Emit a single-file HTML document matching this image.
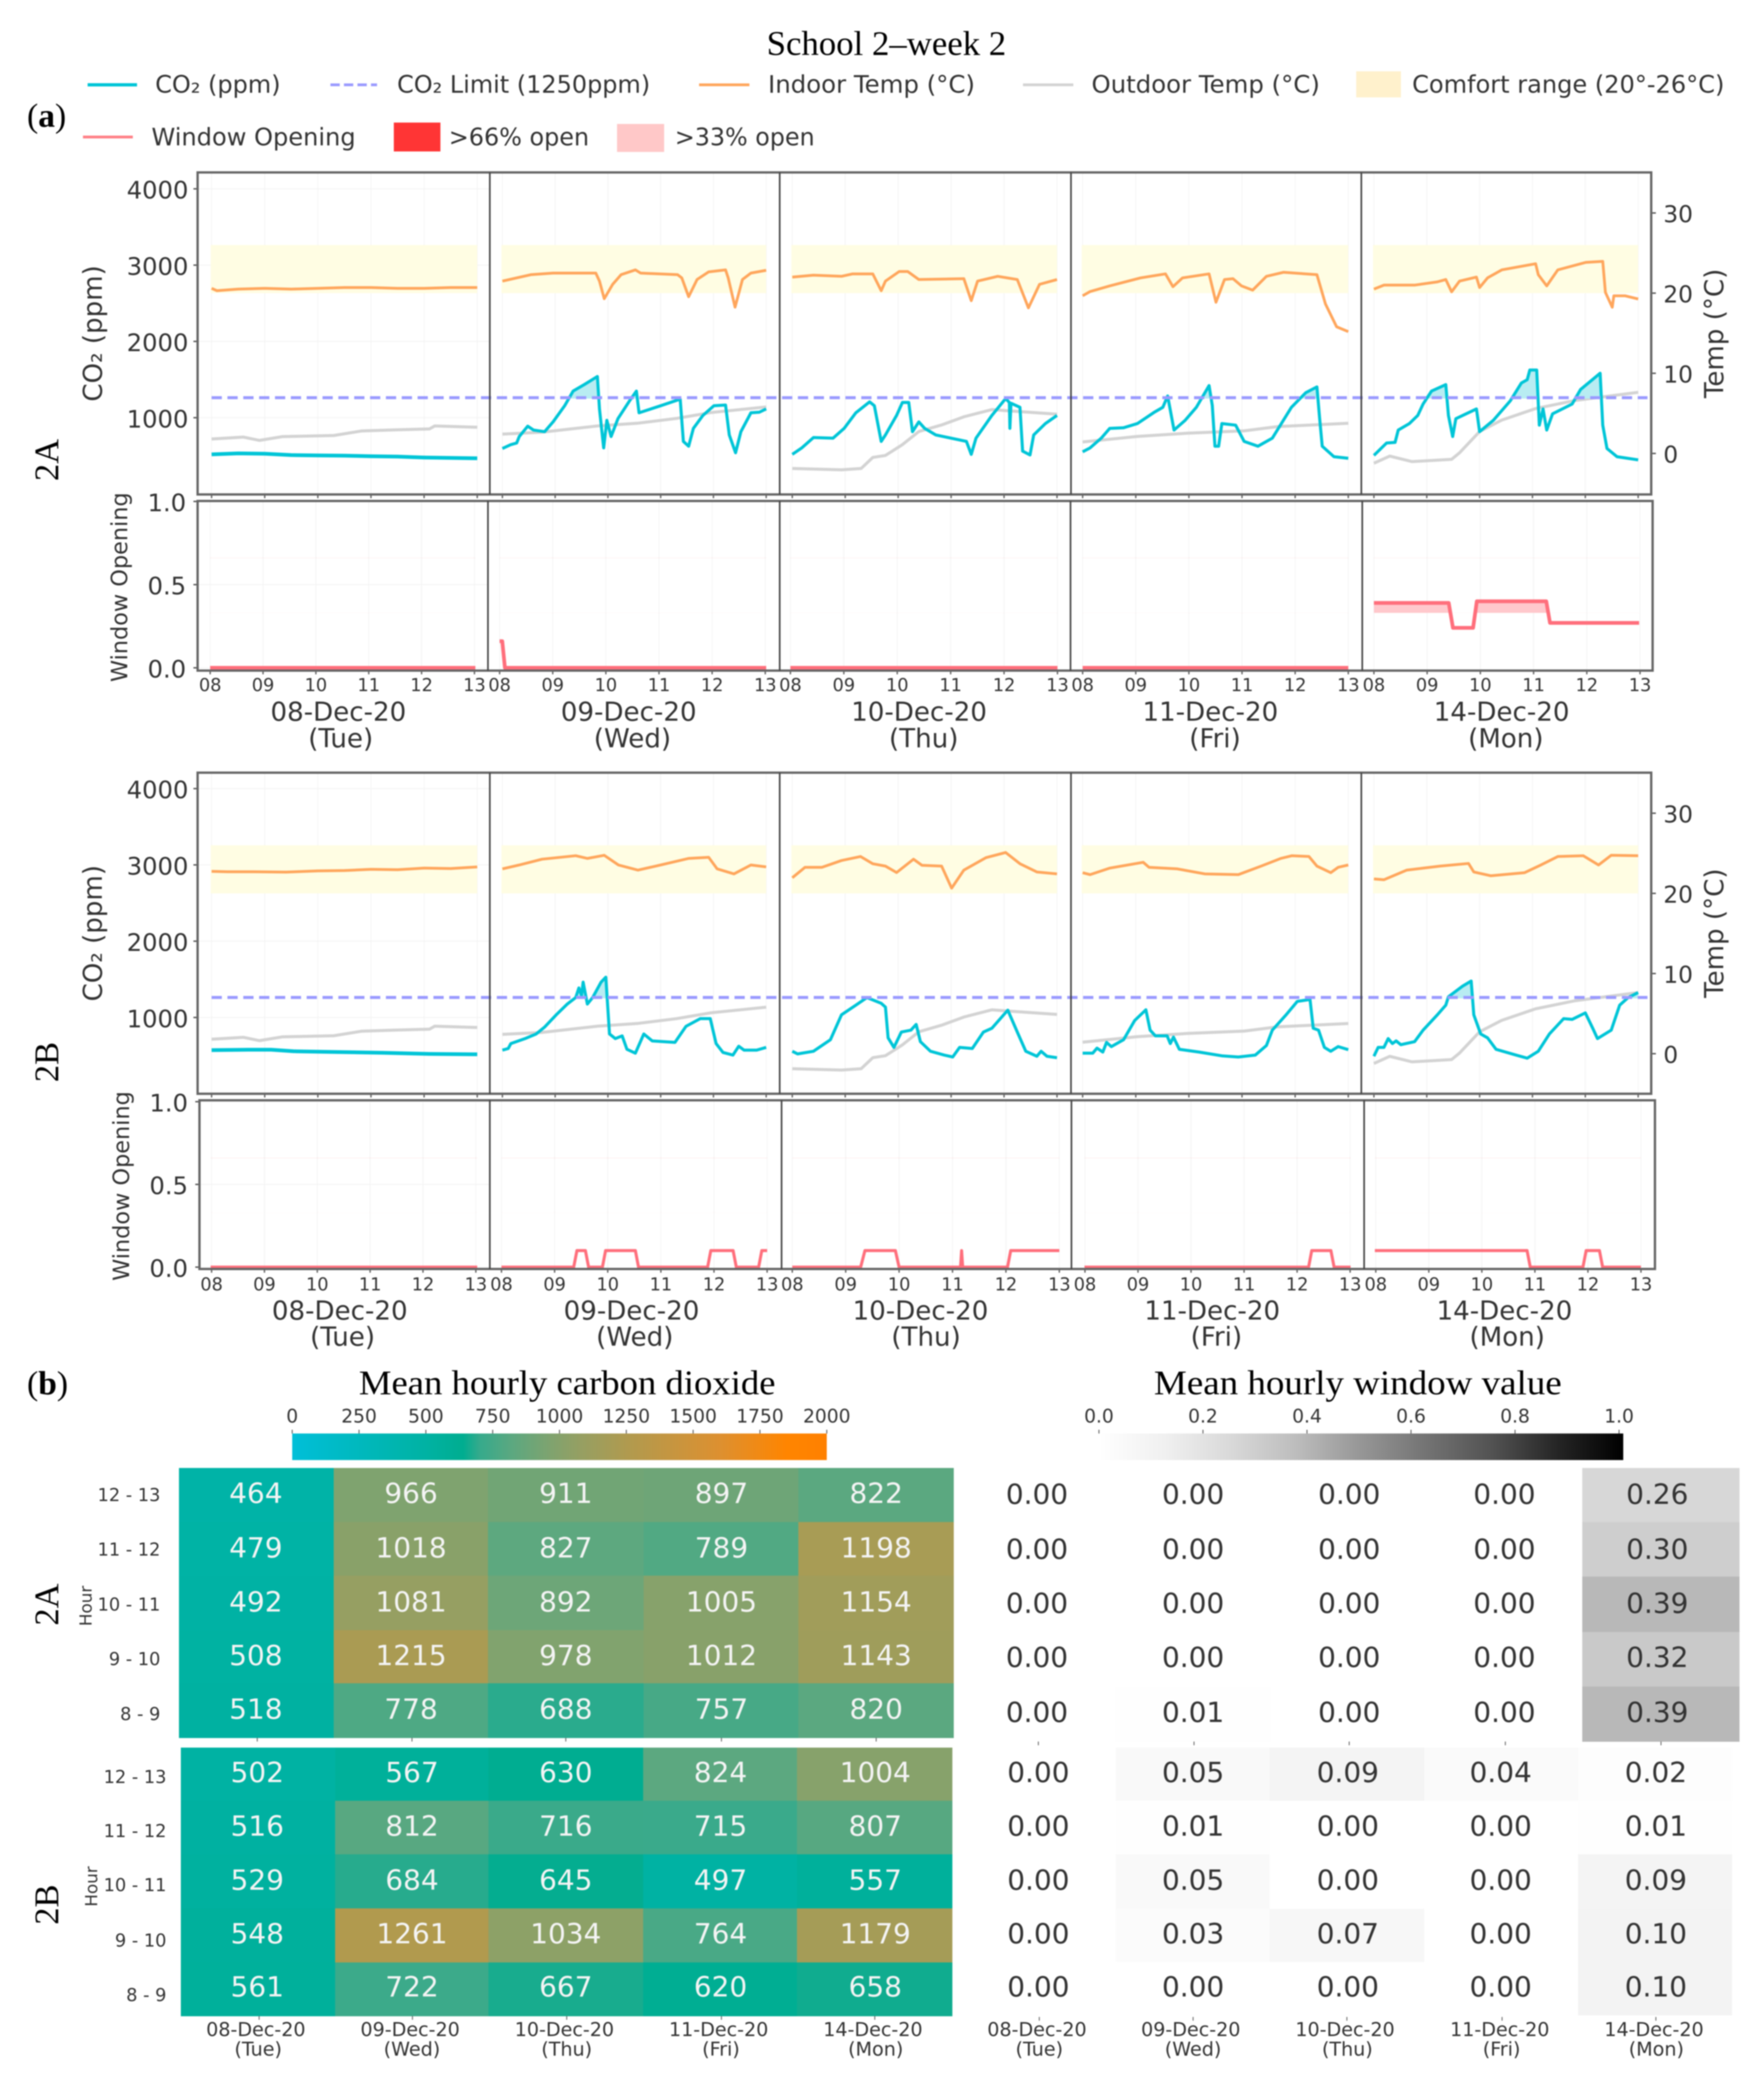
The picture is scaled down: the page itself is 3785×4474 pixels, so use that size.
<!DOCTYPE html>
<html lang="en">
<head>
<meta charset="utf-8">
<title>School 2 – week 2</title>
<style>
html,body{margin:0;padding:0;background:#fff;width:3785px;height:4474px;overflow:hidden}
svg{display:block;filter:blur(1.4px)}
text{font-family:"DejaVu Sans","Liberation Sans",sans-serif;fill:#333}
.serif{font-family:"Liberation Serif",serif;fill:#000}
</style>
</head>
<body>
<svg id="chart" xmlns="http://www.w3.org/2000/svg" width="3785" height="4474" viewBox="0 0 3785 4474">
  <rect x="0" y="0" width="3785" height="4474" fill="#fff"/>
  <text class="serif" x="1645" y="118" font-size="74" textLength="514" lengthAdjust="spacingAndGlyphs">School 2–week 2</text>
  <text class="serif" x="58" y="272" font-size="72">(<tspan font-weight="bold">a</tspan>)</text>
  <text class="serif" x="58" y="2992" font-size="72">(<tspan font-weight="bold">b</tspan>)</text>

  <g>
    <line x1="188" y1="182" x2="294" y2="182" stroke="#00c5d7" stroke-width="7"/>
    <text x="333" y="199" font-size="52" textLength="269" lengthAdjust="spacingAndGlyphs">CO₂ (ppm)</text>
    <line x1="709" y1="182" x2="809" y2="182" stroke="#9a9aff" stroke-width="6" stroke-dasharray="20 9"/>
    <text x="852" y="199" font-size="52" textLength="543" lengthAdjust="spacingAndGlyphs">CO₂ Limit (1250ppm)</text>
    <line x1="1500" y1="182" x2="1608" y2="182" stroke="#ffa65c" stroke-width="6"/>
    <text x="1648" y="199" font-size="52" textLength="444" lengthAdjust="spacingAndGlyphs">Indoor Temp (°C)</text>
    <line x1="2195" y1="182" x2="2303" y2="182" stroke="#d3d3d3" stroke-width="6"/>
    <text x="2342" y="199" font-size="52" textLength="490" lengthAdjust="spacingAndGlyphs">Outdoor Temp (°C)</text>
    <rect x="2910" y="153" width="96" height="56" fill="#fff1cc"/>
    <text x="3030" y="199" font-size="52" textLength="670" lengthAdjust="spacingAndGlyphs">Comfort range (20°-26°C)</text>
    <line x1="178" y1="294" x2="285" y2="294" stroke="#ff7f85" stroke-width="6"/>
    <text x="325" y="312" font-size="52" textLength="438" lengthAdjust="spacingAndGlyphs">Window Opening</text>
    <rect x="845" y="263" width="100" height="62" fill="#ff3535"/>
    <text x="963" y="312" font-size="52" textLength="301" lengthAdjust="spacingAndGlyphs">&gt;66% open</text>
    <rect x="1324" y="266" width="101" height="60" fill="#ffc8c8"/>
    <text x="1448" y="312" font-size="52" textLength="300" lengthAdjust="spacingAndGlyphs">&gt;33% open</text>
  </g>

  <text class="serif" transform="translate(125,987) rotate(-90)" text-anchor="middle" font-size="74">2A</text>
  <text class="serif" transform="translate(125,2279) rotate(-90)" text-anchor="middle" font-size="74">2B</text>
  <text class="serif" transform="translate(125,3443) rotate(-90)" text-anchor="middle" font-size="74">2A</text>
  <text class="serif" transform="translate(125,4087) rotate(-90)" text-anchor="middle" font-size="74">2B</text>

  <text class="serif" x="770" y="2992" font-size="74" textLength="894" lengthAdjust="spacingAndGlyphs">Mean hourly carbon dioxide</text>
  <text class="serif" x="2476" y="2992" font-size="74" textLength="875" lengthAdjust="spacingAndGlyphs">Mean hourly window value</text>
</svg>

<script>
/* ---------- tick labels & categories ---------- */
const dayDates = ['08-Dec-20','09-Dec-20','10-Dec-20','11-Dec-20','14-Dec-20'];
const dayNames = ['(Tue)','(Wed)','(Thu)','(Fri)','(Mon)'];
const hourTicks = [8,9,10,11,12,13];
const hourTickLabels = ['08','09','10','11','12','13'];
const co2Ticks = [1000,2000,3000,4000];
const tempTicks = [0,10,20,30];
const windowTicks = [0,0.5,1];
const co2Limit = [1250];
const comfortRange = [20,26];
const windowThresholds = [0.33,0.66];
const heatRowLabels = ['12 - 13','11 - 12','10 - 11','9 - 10','8 - 9'];
const co2BarTicks = [0,250,500,750,1000,1250,1500,1750,2000];
const windowBarTicks = [0,0.2,0.4,0.6,0.8,1];

/* ---------- outdoor temperature (deg C), shared by both rooms: [hour, value] ---------- */
const outdoorTue = [[8,1.8],[8.6,2.04],[8.9,1.63],[9.33,2.1],[10.3,2.24],[10.82,2.8],[11.46,2.94],[12.1,3.06],[12.2,3.43],[13,3.27]];
const outdoorWed = [[8,2.41],[8.75,2.65],[9.8,3.43],[10.55,3.76],[11.3,4.37],[11.95,5.1],[13,5.8]];
const outdoorThu = [[8,-1.88],[8.93,-2.04],[9.3,-1.88],[9.52,-0.5],[9.76,-0.25],[10.08,1.1],[10.39,2.73],[10.82,3.55],[11.24,4.57],[11.77,5.47],[12.19,5.27],[13,4.9]];
const outdoorFri = [[8,1.43],[9.03,2.12],[9.98,2.53],[11.04,2.82],[11.67,3.35],[13,3.76]];
const outdoorMon = [[8,-1.22],[8.3,-0.33],[8.72,-1.02],[9.47,-0.73],[9.62,0.08],[10,2.73],[10.42,4.16],[11.06,5.6],[11.8,6.6],[13,7.63]];

/* ---------- room 2A CO2 (ppm): [hour, value] ---------- */
const co2A_Tue = [[8,519],[8.5,532],[9,528],[9.5,510],[10,505],[10.5,503],[11,495],[11.5,490],[12,478],[13,468]];
const co2A_Wed = [[8,596],[8.16,647],[8.27,668],[8.32,753],[8.48,889],[8.59,838],[8.8,817],[8.96,945],[9.18,1157],[9.34,1349],[9.55,1434],[9.8,1540],[9.84,1115],[9.92,604],[9.98,966],[10.06,753],[10.19,987],[10.41,1221],[10.54,1349],[10.59,1064],[11,1157],[11.37,1243],[11.43,689],[11.53,626],[11.62,860],[11.8,1030],[12.01,1157],[12.23,1166],[12.3,774],[12.42,540],[12.52,817],[12.71,1064],[12.87,1072],[13,1115]];
const co2A_Thu = [[8,519],[8.18,604],[8.4,740],[8.77,732],[8.98,860],[9.2,1064],[9.46,1208],[9.55,1157],[9.68,689],[9.76,774],[9.97,1030],[10.08,1200],[10.2,1200],[10.27,817],[10.39,945],[10.5,860],[10.71,774],[11.14,711],[11.29,689],[11.38,519],[11.47,732],[11.77,1030],[12.03,1251],[12.1,1200],[12.11,860],[12.13,1190],[12.3,1136],[12.35,562],[12.49,511],[12.56,774],[12.78,923],[13,1030]];
const co2A_Fri = [[8,553],[8.14,604],[8.35,732],[8.51,860],[8.77,868],[9.03,923],[9.35,1072],[9.51,1136],[9.6,1285],[9.72,838],[9.93,966],[10.14,1136],[10.38,1421],[10.44,1160],[10.49,626],[10.56,626],[10.62,923],[10.88,902],[11.04,689],[11.3,626],[11.57,732],[11.93,1136],[12.2,1328],[12.41,1404],[12.46,1000],[12.51,626],[12.73,489],[13,468]];
const co2A_Mon = [[8,506],[8.24,668],[8.4,676],[8.46,838],[8.67,923],[8.83,1030],[8.93,1179],[9.09,1349],[9.36,1434],[9.41,1030],[9.49,753],[9.55,987],[9.94,1115],[10,817],[10.26,966],[10.58,1221],[10.79,1455],[10.9,1498],[10.95,1625],[11.08,1625],[11.13,902],[11.2,1115],[11.27,838],[11.38,1051],[11.75,1179],[11.91,1370],[12.28,1583],[12.33,902],[12.41,596],[12.6,489],[13,447]];

/* ---------- room 2A indoor temperature (deg C) ---------- */
const inA_Tue = [[8,20.6],[8.1,20.3],[8.5,20.5],[9,20.6],[9.5,20.5],[10,20.6],[10.5,20.7],[11,20.7],[11.5,20.6],[12,20.6],[12.5,20.7],[13,20.7]];
const inA_Wed = [[8,21.5],[8.27,21.9],[8.54,22.3],[8.96,22.5],[9.77,22.5],[9.84,21.5],[9.93,19.3],[10.09,21.1],[10.25,22.3],[10.52,22.9],[10.62,22.5],[11.32,22.3],[11.4,21.9],[11.53,19.55],[11.69,21.7],[11.91,22.65],[12.23,22.9],[12.28,21.9],[12.41,18.25],[12.55,21.7],[12.71,22.5],[13,22.85]];
const inA_Thu = [[8,22],[8.4,22.24],[8.93,22.1],[9.14,22.4],[9.52,22.4],[9.68,20.3],[9.76,21.5],[10.02,22.7],[10.18,22.7],[10.39,21.7],[11.24,21.8],[11.38,19.06],[11.5,21.5],[11.88,22.1],[12.25,21.7],[12.46,18.16],[12.67,21.1],[13,21.7]];
const inA_Fri = [[8,19.67],[8.14,20.2],[8.51,20.9],[9.09,21.9],[9.56,22.4],[9.7,20.8],[9.88,21.9],[10.38,22.4],[10.51,18.86],[10.67,21.7],[10.83,21.8],[10.99,20.9],[11.2,20.37],[11.46,22.1],[11.78,22.6],[12.41,22.3],[12.57,18.65],[12.78,15.8],[13,15.2]];
const inA_Mon = [[8,20.5],[8.19,21],[8.77,21],[9.2,21.4],[9.36,21.7],[9.47,20.16],[9.62,21.5],[9.94,22],[10,20.7],[10.15,21.9],[10.42,22.9],[11.06,23.67],[11.11,22.3],[11.27,20.9],[11.48,22.9],[12.01,23.84],[12.33,23.96],[12.38,20.1],[12.51,18.24],[12.54,19.67],[12.75,19.67],[13,19.27]];

/* ---------- room 2A window opening (0-1) ---------- */
const winA_Tue = [[8,0],[13,0]];
const winA_Wed = [[8,0.16],[8.05,0.16],[8.1,0],[13,0]];
const winA_Thu = [[8,0],[13,0]];
const winA_Fri = [[8,0],[13,0]];
const winA_Mon = [[8,0.39],[9.41,0.39],[9.49,0.24],[9.87,0.24],[9.94,0.4],[11.25,0.4],[11.32,0.27],[13,0.27]];

/* ---------- room 2B CO2 (ppm) ---------- */
const co2B_Tue = [[8,572],[8.69,577],[9.12,577],[9.54,557],[10.39,547],[11.24,537],[12.1,522],[13,517]];
const co2B_Wed = [[8,572],[8.11,593],[8.16,658],[8.43,723],[8.64,784],[8.8,874],[9.02,1035],[9.23,1176],[9.39,1261],[9.45,1387],[9.5,1287],[9.53,1463],[9.61,1176],[9.71,1261],[9.87,1463],[9.96,1528],[10.03,784],[10.14,723],[10.27,759],[10.36,583],[10.52,532],[10.68,784],[10.84,693],[11.27,673],[11.48,884],[11.75,985],[11.94,985],[12.05,658],[12.18,542],[12.37,507],[12.48,623],[12.58,572],[12.82,572],[13,608]];
const co2B_Thu = [[8,557],[8.1,522],[8.4,557],[8.72,708],[8.93,1035],[9.2,1161],[9.41,1261],[9.68,1186],[9.76,1136],[9.81,733],[9.92,608],[10.06,809],[10.24,834],[10.34,909],[10.42,683],[10.61,557],[10.87,507],[11.03,482],[11.16,608],[11.4,593],[11.61,809],[11.77,859],[12.07,1096],[12.25,809],[12.41,557],[12.62,492],[12.7,557],[12.81,492],[13,472]];
const co2B_Fri = [[8,532],[8.19,532],[8.27,598],[8.38,547],[8.45,673],[8.54,618],[8.77,708],[8.98,960],[9.19,1101],[9.27,834],[9.37,759],[9.59,759],[9.65,658],[9.71,743],[9.82,583],[10.19,547],[10.62,497],[10.93,482],[11.25,507],[11.46,633],[11.57,834],[11.83,1035],[12.04,1211],[12.28,1236],[12.34,859],[12.44,834],[12.55,608],[12.67,557],[12.81,618],[13,578]];
const co2B_Mon = [[8,492],[8.08,608],[8.19,608],[8.27,723],[8.35,658],[8.42,693],[8.51,643],[8.77,683],[8.93,834],[9.2,1035],[9.36,1161],[9.41,1272],[9.68,1412],[9.84,1478],[9.89,1035],[10.02,784],[10.15,733],[10.31,583],[10.69,507],[10.9,467],[11.11,557],[11.32,784],[11.59,985],[11.75,975],[12,1060],[12.14,859],[12.23,723],[12.49,834],[12.65,1161],[12.81,1261],[13,1327]];

/* ---------- room 2B indoor temperature (deg C) ---------- */
const inB_Tue = [[8,22.75],[8.3,22.7],[8.8,22.7],[9.4,22.65],[10,22.8],[10.5,22.85],[11,23],[11.5,22.95],[12,23.15],[12.5,23.1],[13,23.3]];
const inB_Wed = [[8,23.06],[8.32,23.54],[8.75,24.26],[9.39,24.7],[9.61,24.36],[9.93,24.75],[10.2,23.54],[10.57,22.9],[11,23.54],[11.53,24.36],[11.91,24.5],[12.07,23.06],[12.39,22.43],[12.71,23.54],[13,23.3]];
const inB_Thu = [[8,21.95],[8.24,23.25],[8.56,23.25],[8.93,24.1],[9.29,24.6],[9.52,23.7],[9.76,23.4],[9.97,22.6],[10.29,24.26],[10.45,23.5],[10.82,23.4],[11.01,20.65],[11.24,22.9],[11.66,24.46],[12.03,25.1],[12.3,23.7],[12.62,22.67],[13,22.43]];
const inB_Fri = [[8,22.58],[8.14,22.34],[8.51,23.15],[9.14,23.88],[9.25,23.25],[9.78,23.06],[10.3,22.43],[10.93,22.34],[11.36,23.4],[11.73,24.36],[11.94,24.7],[12.26,24.6],[12.41,23.4],[12.67,22.58],[12.81,23.25],[13,23.54]];
const inB_Mon = [[8,21.8],[8.19,21.7],[8.62,22.9],[9.25,23.4],[9.79,23.73],[9.89,22.67],[10.21,22.2],[10.85,22.58],[11.16,23.54],[11.48,24.6],[11.96,24.7],[12.25,23.54],[12.49,24.75],[13,24.7]];

/* ---------- room 2B window opening (0-1) ---------- */
const winB_Tue = [[8,0],[13,0]];
const winB_Wed = [[8,0],[9.36,0],[9.42,0.1],[9.58,0.1],[9.64,0],[9.9,0],[9.96,0.1],[10.52,0.1],[10.58,0],[11.88,0],[11.94,0.1],[12.36,0.1],[12.42,0],[12.84,0],[12.9,0.1],[13,0.1]];
const winB_Thu = [[8,0],[9.28,0],[9.36,0.1],[9.93,0.1],[10,0],[11.15,0],[11.17,0.1],[11.19,0],[12.03,0],[12.09,0.1],[13,0.1]];
const winB_Fri = [[8,0],[12.21,0],[12.27,0.1],[12.63,0.1],[12.69,0],[13,0]];
const winB_Mon = [[8,0.1],[10.86,0.1],[10.92,0],[11.91,0],[11.97,0.1],[12.22,0.1],[12.28,0],[13,0]];

/* ---------- heatmap values, top row = 12-13 ---------- */
const heatCo2A = [[464,966,911,897,822],[479,1018,827,789,1198],[492,1081,892,1005,1154],[508,1215,978,1012,1143],[518,778,688,757,820]];
const heatCo2B = [[502,567,630,824,1004],[516,812,716,715,807],[529,684,645,497,557],[548,1261,1034,764,1179],[561,722,667,620,658]];
const heatWinA = [[0,0,0,0,0.26],[0,0,0,0,0.30],[0,0,0,0,0.39],[0,0,0,0,0.32],[0,0.01,0,0,0.39]];
const heatWinB = [[0,0.05,0.09,0.04,0.02],[0,0.01,0,0,0.01],[0,0.05,0,0,0.09],[0,0.03,0.07,0,0.10],[0,0,0,0,0.10]];

/* ---------- colour ramps (value, colour) ---------- */
const co2Ramp = [[0,'#00bfd8'],[500,'#00b2a3'],[640,'#00ad90'],[700,'#35aa8c'],[820,'#5ba880'],[966,'#7fa36f'],[1081,'#969f62'],[1261,'#b19a4e'],[1600,'#dd9030'],[1850,'#ff8500'],[2000,'#ff8000']];
const greyRamp = [[0,'#ffffff'],[0.125,'#f0f0f0'],[0.25,'#d9d9d9'],[0.375,'#bdbdbd'],[0.5,'#969696'],[0.625,'#737373'],[0.75,'#525252'],[0.875,'#252525'],[1,'#000000']];

/* ---------- layout ---------- */
const NS = 'http://www.w3.org/2000/svg';
const svg = document.getElementById('chart');

function add(parent, tag, attrs, name) {
  const el = document.createElementNS(NS, tag);
  for (const k in attrs) el.setAttribute(k, attrs[k]);
  
  
  parent.appendChild(el);
  return el;
}
function label(parent, s, x, y, size, name, extra) {
  const el = add(parent, 'text', Object.assign({x: x, y: y + 0.365 * size, 'font-size': size, 'text-anchor': 'middle'}, extra || {}), name);
  el.textContent = s;
  return el;
}
function vlabel(parent, s, x, y, size, name) {
  const el = add(parent, 'text', {transform: 'translate(' + x + ',' + y + ') rotate(-90)', 'font-size': size, 'text-anchor': 'middle', 'dominant-baseline': 'central'}, name);
  el.textContent = s;
  return el;
}
function lerpColor(ramp, v) {
  const hex = c => [1, 3, 5].map(i => parseInt(c.substr(i, 2), 16));
  if (v <= ramp[0][0]) return ramp[0][1];
  for (let i = 1; i < ramp.length; i++) {
    if (v <= ramp[i][0]) {
      const t = (v - ramp[i - 1][0]) / (ramp[i][0] - ramp[i - 1][0]);
      const a = hex(ramp[i - 1][1]), b = hex(ramp[i][1]);
      return 'rgb(' + a.map((c, j) => Math.round(c + (b[j] - c) * t)).join(',') + ')';
    }
  }
  return ramp[ramp.length - 1][1];
}
function pathOf(series, xf, yf) {
  return series.map((p, i) => (i ? 'L' : 'M') + xf(p[0]).toFixed(1) + ' ' + yf(p[1]).toFixed(1)).join('');
}
let clipId = 0;
function aboveFill(parent, series, xf, yf, level, color, name, topY) {
  clipId++;
  const id = 'clip' + clipId;
  const cp = add(parent, 'clipPath', {id: id}, name + '-clip');
  const yL = yf(level);
  add(cp, 'rect', {x: 0, y: topY, width: 3785, height: yL - topY}, name + '-clip-rect');
  const x0 = xf(series[0][0]), xn = xf(series[series.length - 1][0]);
  const d = 'M' + x0 + ' ' + yL + 'L' + pathOf(series, xf, yf).slice(1) + 'L' + xn + ' ' + yL + 'Z';
  add(parent, 'path', {d: d, fill: color, stroke: 'none', 'clip-path': 'url(#' + id + ')'}, name);
}

const dayKeys = ['tue', 'wed', 'thu', 'fri', 'mon'];
const outdoorDays = [outdoorTue, outdoorWed, outdoorThu, outdoorFri, outdoorMon];

function drawMain(L, co2Days, indoorDays, room) {
  const g = add(svg, 'g', {}, 'main-panel-' + room);
  const yC = v => L.co2Zero - v * L.co2Per;
  const yT = v => L.tempZero - v * L.tempPer;
  co2Ticks.forEach(v => {
    add(g, 'line', {x1: L.left, x2: L.seps[0], y1: yC(v), y2: yC(v), stroke: '#f4f4f4', 'stroke-width': 2}, 'co2-gridline');
    add(g, 'line', {x1: L.left - 9, x2: L.left, y1: yC(v), y2: yC(v), stroke: '#555', 'stroke-width': 3}, 'co2-tick');
    label(g, String(v), L.left - 86, yC(v) + 2, 52, 'co2-tick-label');
  });
  L.days.forEach((d, i) => {
    const x = h => d[0] + (h - 8) * (d[1] - d[0]) / 5;
    const key = room + '-' + dayKeys[i];
    const dg = add(g, 'g', {}, 'day-' + key);
    hourTicks.forEach(h => {
      add(dg, 'line', {x1: x(h), x2: x(h), y1: L.top, y2: L.bottom, stroke: '#f4f4f4', 'stroke-width': 2}, 'hour-gridline');
      add(dg, 'line', {x1: x(h), x2: x(h), y1: L.bottom, y2: L.bottom + 8, stroke: '#666', 'stroke-width': 3}, 'hour-tick');
    });
    add(dg, 'rect', {x: x(8) - 2, y: yT(comfortRange[1]), width: x(13) - x(8) + 2, height: yT(comfortRange[0]) - yT(comfortRange[1]), fill: '#fffde3'}, 'comfort-band-' + key);
    add(dg, 'path', {d: pathOf(outdoorDays[i], x, yT), fill: 'none', stroke: '#d3d3d3', 'stroke-width': 6.5, 'stroke-linejoin': 'round'}, 'outdoor-temp-' + key);
    aboveFill(dg, co2Days[i], x, yC, co2Limit[0], '#b8ecf2', 'co2-over-limit-' + key, L.top);
    add(dg, 'path', {d: pathOf(indoorDays[i], x, yT), fill: 'none', stroke: '#ffa65c', 'stroke-width': 6, 'stroke-linejoin': 'round'}, 'indoor-temp-' + key);
    add(dg, 'path', {d: pathOf(co2Days[i], x, yC), fill: 'none', stroke: '#00c5d7', 'stroke-width': i === 0 ? 8 : 6.5, 'stroke-linejoin': 'round'}, 'co2-' + key);
  });
  tempTicks.forEach(v => {
    add(g, 'line', {x1: L.right, x2: L.right + 10, y1: yT(v), y2: yT(v), stroke: '#555', 'stroke-width': 3}, 'temp-tick');
    add(g, 'text', {x: L.right + 26, y: yT(v) + 20, 'font-size': 50}, 'temp-tick-label').textContent = String(v);
  });
  add(g, 'line', {x1: L.limitStart, x2: L.limitEnd, y1: yC(co2Limit[0]) - 2, y2: yC(co2Limit[0]) - 2, stroke: '#9a9aff', 'stroke-width': 6.5, 'stroke-dasharray': '22 12'}, 'co2-limit-line');
  add(g, 'rect', {x: L.left, y: L.top, width: L.right - L.left, height: L.bottom - L.top, fill: 'none', stroke: '#666', 'stroke-width': 5}, 'main-panel-frame');
  L.seps.forEach(x => add(g, 'line', {x1: x, x2: x, y1: L.top, y2: L.bottom, stroke: '#444', 'stroke-width': 3.5}, 'day-separator'));
  vlabel(g, 'CO₂ (ppm)', L.left - 224, (L.top + L.bottom) / 2, 56, 'co2-axis-title');
  vlabel(g, 'Temp (°C)', L.right + 136, (L.top + L.bottom) / 2, 56, 'temp-axis-title');
}

function drawWindow(L, winDays, room) {
  const g = add(svg, 'g', {}, 'window-panel-' + room);
  const yW = v => L.zero - v * L.per;
  windowTicks.forEach(v => {
    add(g, 'line', {x1: L.left, x2: L.seps[0], y1: yW(v), y2: yW(v), stroke: '#f4f4f4', 'stroke-width': 2}, 'window-gridline');
    add(g, 'line', {x1: L.left - 9, x2: L.left, y1: yW(v), y2: yW(v), stroke: '#555', 'stroke-width': 3}, 'window-tick');
    label(g, v.toFixed(1), L.left - 66, yW(v) + 2, 52, 'window-tick-label');
  });
  L.days.forEach((d, i) => {
    const x = h => d[0] + (h - 8) * (d[1] - d[0]) / 5;
    const key = room + '-' + dayKeys[i];
    hourTicks.forEach((h, t) => {
      add(g, 'line', {x1: L.ticks[i][t], x2: L.ticks[i][t], y1: L.top, y2: L.bottom, stroke: '#f4f4f4', 'stroke-width': 2}, 'hour-gridline');
      add(g, 'line', {x1: L.ticks[i][t], x2: L.ticks[i][t], y1: L.bottom, y2: L.bottom + 8, stroke: '#666', 'stroke-width': 3}, 'hour-tick');
      label(g, hourTickLabels[t], L.ticks[i][t], L.tickY, 38, 'hour-tick-label');
    });
    aboveFill(g, winDays[i], x, yW, windowThresholds[0], '#ffc8cc', 'window-33-fill-' + key, L.top);
    aboveFill(g, winDays[i], x, yW, windowThresholds[1], '#ff3535', 'window-66-fill-' + key, L.top);
    add(g, 'path', {d: pathOf(winDays[i], x, yW), fill: 'none', stroke: '#ff6f7c', 'stroke-width': L.lineW, 'stroke-linejoin': 'round'}, 'window-opening-' + key);
    label(g, dayDates[i], L.dateX[i], L.dateY, 56, 'date-label');
    label(g, dayNames[i], L.nameX[i], L.nameY, 56, 'weekday-label');
  });
  add(g, 'rect', {x: L.left, y: L.top, width: L.right - L.left, height: L.bottom - L.top, fill: 'none', stroke: '#666', 'stroke-width': 5}, 'window-panel-frame');
  L.seps.forEach(x => add(g, 'line', {x1: x, x2: x, y1: L.top, y2: L.bottom, stroke: '#444', 'stroke-width': 3.5}, 'day-separator'));
  vlabel(g, 'Window Opening', L.left - 167, (L.top + L.bottom) / 2 + 3, 48, 'window-axis-title');
}

function drawHeat(L, values, ramp, textColor, fmt, name) {
  const g = add(svg, 'g', {}, name);
  values.forEach((row, r) => row.forEach((v, c) => {
    add(g, 'rect', {x: L.cols[c], y: L.rows[r], width: L.cols[c + 1] - L.cols[c] + 0.5, height: L.rows[r + 1] - L.rows[r] + 0.5, fill: lerpColor(ramp, v)}, name + '-cell');
    label(g, fmt(v), L.textX[c], L.textY[r], 60, name + '-value', {fill: textColor, style: 'fill:' + textColor});
  }));
  L.tickX.forEach(x => add(g, 'line', {x1: x, x2: x, y1: L.tickY, y2: L.tickY + 8, stroke: '#666', 'stroke-width': 2}, name + '-tick'));
}

function drawRowLabels(rowsY, right, hourX, hourY, name) {
  const g = add(svg, 'g', {}, name);
  heatRowLabels.forEach((s, i) => label(g, s, right, rowsY[i], 38, 'hour-row-label', {'text-anchor': 'end'}));
  vlabel(g, 'Hour', hourX, hourY, 36, 'hour-axis-title');
}

function drawColLabels(dateX, nameX, name) {
  const g = add(svg, 'g', {}, name);
  dayDates.forEach((s, i) => {
    label(g, s, dateX[i], 4354, 41, 'heatmap-date-label');
    label(g, dayNames[i], nameX[i], 4396, 41, 'heatmap-weekday-label');
  });
}

function drawBar(x0, x1, scaleEnd, ramp, maxV, ticks, fmt, barId, name) {
  const g = add(svg, 'g', {}, name);
  const grad = add(g, 'linearGradient', {id: barId, x1: 0, x2: 1, y1: 0, y2: 0}, name + '-gradient');
  ramp.forEach(s => add(grad, 'stop', {offset: Math.min(1, s[0] / maxV), 'stop-color': s[1]}, name + '-stop'));
  add(g, 'rect', {x: x0, y: 3076, width: x1 - x0, height: 57, fill: 'url(#' + barId + ')'}, name + '-bar');
  ticks.forEach(v => {
    const x = x0 + v / maxV * (scaleEnd - x0);
    add(g, 'line', {x1: x, x2: x, y1: 3068, y2: 3076, stroke: '#555', 'stroke-width': 2}, name + '-tick');
    label(g, fmt(v), x, 3038, 40, name + '-tick-label');
  });
}

const hourSpacing = (a, b) => hourTicks.map(h => a + (h - 8) * (b - a) / 5);

drawMain({
  left: 424, right: 3543, top: 370, bottom: 1061, seps: [1051, 1673, 2298, 2921],
  co2Zero: 1060, co2Per: 0.1637, tempZero: 973, tempPer: 17.2,
  limitStart: 454, limitEnd: 3535,
  days: [[454, 1024], [1078, 1644], [1700, 2268], [2323, 2893], [2948, 3515]]
}, [co2A_Tue, co2A_Wed, co2A_Thu, co2A_Fri, co2A_Mon], [inA_Tue, inA_Wed, inA_Thu, inA_Fri, inA_Mon], '2a');

drawWindow({
  left: 424, right: 3546, top: 1075, bottom: 1439, zero: 1433, per: 357, lineW: 8, tickY: 1469,
  seps: [1047, 1673, 2297, 2923],
  days: [[451, 1020], [1072, 1644], [1696, 2269], [2323, 2893], [2948, 3517]],
  ticks: [hourSpacing(451, 1018), hourSpacing(1072, 1642), hourSpacing(1696, 2269), hourSpacing(2323, 2893), hourSpacing(2948, 3519)],
  dateX: [726, 1349, 1972, 2597, 3222], dateY: 1526,
  nameX: [731, 1357, 1982, 2607, 3231], nameY: 1583
}, [winA_Tue, winA_Wed, winA_Thu, winA_Fri, winA_Mon], '2a');

drawMain({
  left: 424, right: 3543, top: 1658, bottom: 2347, seps: [1051, 1673, 2298, 2921],
  co2Zero: 2347, co2Per: 0.1637, tempZero: 2261, tempPer: 17.2,
  limitStart: 454, limitEnd: 3535,
  days: [[454, 1024], [1078, 1644], [1700, 2268], [2323, 2893], [2948, 3515]]
}, [co2B_Tue, co2B_Wed, co2B_Thu, co2B_Fri, co2B_Mon], [inB_Tue, inB_Wed, inB_Thu, inB_Fri, inB_Mon], '2b');

drawWindow({
  left: 428, right: 3551, top: 2361, bottom: 2723, zero: 2719, per: 355, lineW: 6.5, tickY: 2755,
  seps: [1051, 1677, 2299, 2927],
  days: [[452, 1024], [1076, 1646], [1700, 2273], [2327, 2898], [2950, 3521]],
  ticks: [hourSpacing(454, 1021), hourSpacing(1076, 1646), hourSpacing(1700, 2273), hourSpacing(2328, 2897), hourSpacing(2952, 3521)],
  dateX: [729, 1355, 1975, 2601, 3228], dateY: 2811,
  nameX: [735, 1362, 1987, 2610, 3234], nameY: 2867
}, [winB_Tue, winB_Wed, winB_Thu, winB_Fri, winB_Mon], '2b');

drawBar(627, 1774, 1774, co2Ramp, 2000, co2BarTicks, v => String(v), 'co2Grad', 'co2-colorbar');
drawBar(2358, 3483, 3474, greyRamp, 1, windowBarTicks, v => v.toFixed(1), 'winGrad', 'window-colorbar');

drawHeat({
  cols: [384, 716, 1047, 1381, 1713, 2046], rows: [3150, 3266, 3381, 3498, 3612, 3729],
  textX: [549, 882, 1214, 1548, 1880], textY: [3203, 3320, 3436, 3551, 3666],
  tickX: [552, 884, 1214, 1548, 1880], tickY: 3729
}, heatCo2A, co2Ramp, '#f4f4f4', v => String(v), 'co2-heatmap-2a');

drawHeat({
  cols: [388, 719, 1048, 1380, 1710, 2043], rows: [3750, 3864, 3979, 4095, 4211, 4326],
  textX: [552, 884, 1214, 1546, 1878], textY: [3802, 3917, 4033, 4148, 4262],
  tickX: [556, 885, 1216, 1548, 1877], tickY: 4326
}, heatCo2B, co2Ramp, '#f4f4f4', v => String(v), 'co2-heatmap-2b');

drawHeat({
  cols: [2058, 2393, 2728, 3058, 3395, 3732], rows: [3150, 3266, 3383, 3502, 3619, 3737],
  textX: [2225, 2560, 2895, 3228, 3556], textY: [3205, 3323, 3439, 3555, 3673],
  tickX: [2228, 2562, 2895, 3230, 3564], tickY: 3737
}, heatWinA, greyRamp, '#333333', v => v.toFixed(2), 'window-heatmap-2a');

drawHeat({
  cols: [2063, 2394, 2724, 3056, 3386, 3716], rows: [3750, 3864, 3979, 4096, 4210, 4324],
  textX: [2228, 2560, 2892, 3220, 3553], textY: [3802, 3917, 4033, 4148, 4262],
  tickX: [2230, 2560, 2890, 3223, 3553], tickY: 4328
}, heatWinB, greyRamp, '#333333', v => v.toFixed(2), 'window-heatmap-2b');

drawRowLabels([3207, 3324, 3442, 3559, 3677], 344, 185, 3446, 'heatmap-2a-row-labels');
drawRowLabels([3812, 3928, 4044, 4163, 4280], 357, 197, 4048, 'heatmap-2b-row-labels');
drawColLabels([549, 880, 1211, 1542, 1873], [554, 884, 1216, 1547, 1879], 'co2-heatmap-column-labels');
drawColLabels([2225, 2555, 2886, 3218, 3549], [2230, 2560, 2891, 3222, 3554], 'window-heatmap-column-labels');
</script>
</body>
</html>
